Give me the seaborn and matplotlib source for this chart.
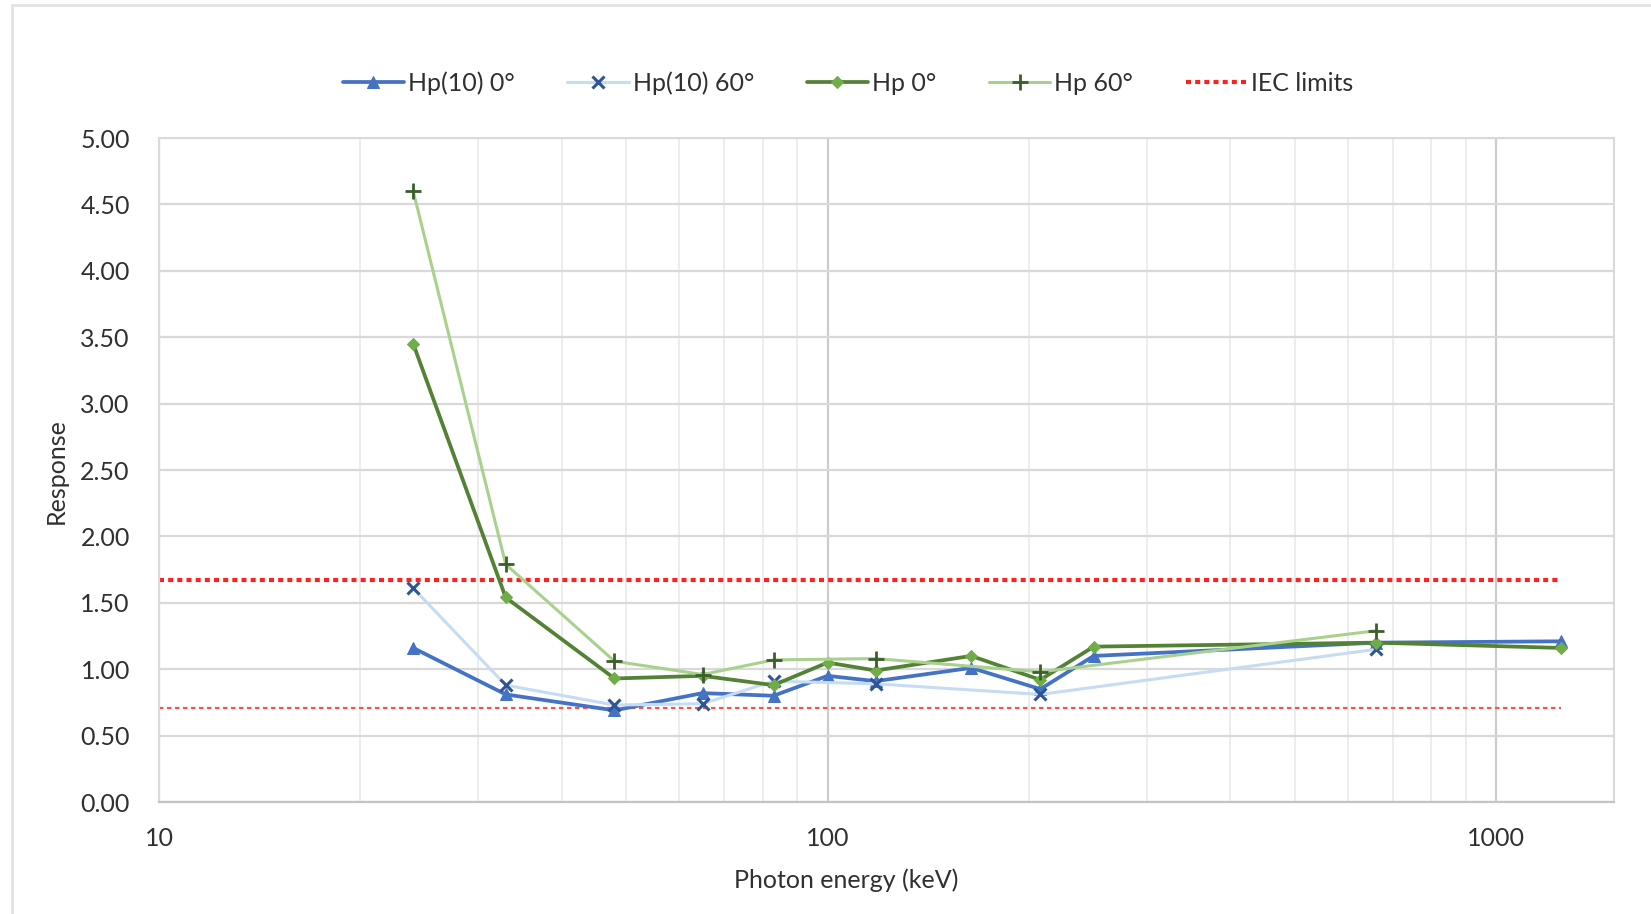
import numpy as np
import pandas as pd
import matplotlib
matplotlib.use("Agg")
import matplotlib.pyplot as plt
from matplotlib.patches import Rectangle
from matplotlib.ticker import FixedLocator, NullFormatter, FuncFormatter
import seaborn as sns

# Photon energies (keV) and dosimeter response for each quantity / angle
energy_all = [24, 33, 48, 65, 83, 100, 118, 164, 208, 250, 662, 1250]
energy_60 = [24, 33, 48, 65, 83, 118, 208, 662]

hp10_0 = [1.16, 0.81, 0.69, 0.82, 0.80, 0.95, 0.91, 1.01, 0.85, 1.10, 1.20, 1.21]
hp10_60 = [1.61, 0.88, 0.73, 0.74, 0.91, 0.89, 0.81, 1.15]
hp_0 = [3.45, 1.54, 0.93, 0.95, 0.88, 1.05, 0.99, 1.10, 0.92, 1.17, 1.20, 1.16]
hp_60 = [4.60, 1.79, 1.06, 0.96, 1.07, 1.08, 0.98, 1.29]

# IEC acceptance limits on the response
iec_energy = [10, 1250]
iec_lower = 0.71
iec_upper = 1.67

y_ticks = [0.0, 0.5, 1.0, 1.5, 2.0, 2.5, 3.0, 3.5, 4.0, 4.5, 5.0]
x_major = [10, 100, 1000]

sns.set_theme(style="white")
plt.rcParams["font.family"] = ["Lato", "DejaVu Sans"]
text_col = "#303030"
fs = 18

fig = plt.figure(figsize=(16.51, 9.14), dpi=100)
ax = fig.add_axes([159 / 1651, 1 - 802 / 914, (1614 - 159) / 1651, (802 - 138) / 914])

# chart area frame
fig.patches.append(Rectangle((11.7 / 1651, -0.02), 1.2, (914 - 5) / 914 + 0.02,
                             transform=fig.transFigure, fill=False,
                             edgecolor="#E3E3E3", lw=2.0, zorder=0))

# IEC limit lines
iec_df = pd.DataFrame({"E": iec_energy * 2,
                       "R": [iec_upper] * 2 + [iec_lower] * 2,
                       "limit": ["upper"] * 2 + ["lower"] * 2})
sns.lineplot(data=iec_df[iec_df.limit == "upper"], x="E", y="R", ax=ax,
             color="#FF2020", lw=3.0, linestyle=(0, (1.2, 1.0)),
             label="IEC limits", zorder=2)
sns.lineplot(data=iec_df[iec_df.limit == "lower"], x="E", y="R", ax=ax,
             color="#FF5050", lw=1.6, linestyle=(0, (2.0, 1.6)),
             label="_nolegend_", zorder=2)

series = [
    ("Hp(10) 0°", energy_all, hp10_0,
     dict(color="#4472C4", lw=2.7, marker="^", markersize=8,
          markerfacecolor="#4472C4", markeredgecolor="#4472C4")),
    ("Hp(10) 60°", energy_60, hp10_60,
     dict(color="#C5DCF2", lw=2.2, marker="x", markersize=8, markeredgewidth=2.2,
          markerfacecolor="#2F5597", markeredgecolor="#2F5597")),
    ("Hp 0°", energy_all, hp_0,
     dict(color="#548235", lw=2.7, marker="D", markersize=6,
          markerfacecolor="#70AD47", markeredgecolor="#70AD47")),
    ("Hp 60°", energy_60, hp_60,
     dict(color="#A9D18E", lw=2.2, marker="+", markersize=12, markeredgewidth=2.0,
          markerfacecolor="#3B5E2B", markeredgecolor="#3B5E2B")),
]
for name, xs, ys, style in series:
    df = pd.DataFrame({"E": xs, "R": ys})
    sns.lineplot(data=df, x="E", y="R", ax=ax, label=name, zorder=3, **style)

ax.set_xscale("log")
ax.set_xlim(10, 1500)
ax.set_ylim(0, 5)
ax.set_yticks(y_ticks)
ax.yaxis.set_major_formatter(FuncFormatter(lambda v, p: f"{v:.2f}"))
ax.xaxis.set_major_locator(FixedLocator(x_major))
ax.xaxis.set_major_formatter(FuncFormatter(lambda v, p: f"{v:g}"))
minor = [m * d for d in (10, 100, 1000) for m in range(2, 10) if m * d <= 1500]
ax.xaxis.set_minor_locator(FixedLocator(minor))
ax.xaxis.set_minor_formatter(NullFormatter())

ax.grid(axis="y", which="major", color="#D9D9D9", lw=1.6)
ax.grid(axis="x", which="major", color="#CCCCCC", lw=1.6)
ax.grid(axis="x", which="minor", color="#ECECEC", lw=1.3)
ax.set_axisbelow(True)

for side in ("top", "right", "left"):
    ax.spines[side].set_color("#DADADA")
    ax.spines[side].set_linewidth(1.5)
ax.spines["bottom"].set_color("#C4C4C4")
ax.spines["bottom"].set_linewidth(1.6)

ax.tick_params(axis="y", length=0, pad=21, labelsize=fs, labelcolor=text_col)
ax.tick_params(axis="x", which="both", length=0, pad=18, labelsize=fs, labelcolor=text_col)

ax.set_xlabel("Photon energy (keV)", fontsize=fs, color=text_col)
ax.xaxis.set_label_coords((846 - 159) / (1614 - 159), (802 - 880) / (802 - 138))
ax.xaxis.label.set_va("center")
ax.set_ylabel("Response", fontsize=fs, color=text_col)
ax.yaxis.set_label_coords((56 - 159) / (1614 - 159), (802 - 471) / (802 - 138))
ax.yaxis.label.set_va("center")

handles, labels = ax.get_legend_handles_labels()
order = ["Hp(10) 0°", "Hp(10) 60°", "Hp 0°", "Hp 60°", "IEC limits"]
hmap = dict(zip(labels, handles))
ax.get_legend().remove()
fig.legend([hmap[k] for k in order], order, loc="center", ncol=5,
           bbox_to_anchor=(848 / 1651, 1 - 83 / 914), frameon=False,
           fontsize=fs, handlelength=2.45, handletextpad=0.17, columnspacing=2.1,
           labelcolor=text_col)

fig.savefig("out.png", dpi=100, facecolor="white")
